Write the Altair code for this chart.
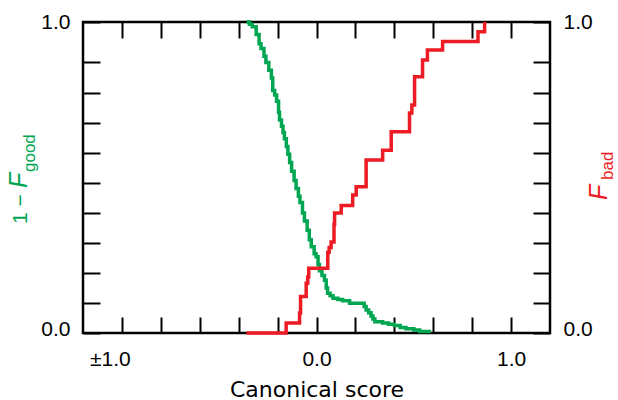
import altair as alt
import pandas as pd

# ---- data ----
good_score = [-0.36, -0.345, -0.33, -0.31, -0.295, -0.285, -0.27, -0.26, -0.245, -0.232,
              -0.225, -0.215, -0.205, -0.195, -0.19, -0.18, -0.172, -0.165, -0.155, -0.147,
              -0.138, -0.128, -0.115, -0.105, -0.093, -0.085, -0.072, -0.062, -0.048, -0.037,
              -0.027, -0.012, -0.002, 0.008, 0.015, 0.028, 0.041, 0.05, 0.057, 0.07,
              0.085, 0.11, 0.134, 0.17, 0.245, 0.255, 0.268, 0.28, 0.29, 0.3,
              0.34, 0.37, 0.40, 0.43, 0.46, 0.50, 0.53, 0.58]
good_value = [1.0, 0.993, 0.985, 0.96, 0.93, 0.915, 0.89, 0.87, 0.845, 0.82,
              0.78, 0.765, 0.745, 0.71, 0.685, 0.665, 0.645, 0.625, 0.6, 0.575,
              0.548, 0.52, 0.49, 0.465, 0.44, 0.42, 0.386, 0.36, 0.33, 0.30,
              0.277, 0.255, 0.245, 0.22, 0.2, 0.185, 0.17, 0.145, 0.128, 0.12,
              0.112, 0.108, 0.104, 0.096, 0.085, 0.074, 0.065, 0.055, 0.045, 0.036,
              0.032, 0.028, 0.024, 0.018, 0.014, 0.01, 0.005, 0.0]

bad_score = [-0.36, -0.156, -0.087, -0.082, -0.053, -0.045, -0.04, 0.058, 0.065, 0.075,
             0.09, 0.093, 0.127, 0.186, 0.204, 0.255, 0.34, 0.384, 0.478, 0.49,
             0.504, 0.545, 0.57, 0.648, 0.83, 0.864]
bad_value = [0.0, 0.032, 0.064, 0.117, 0.16, 0.18, 0.208, 0.26, 0.275, 0.293,
             0.35, 0.386, 0.41, 0.444, 0.47, 0.556, 0.588, 0.647, 0.707, 0.733,
             0.824, 0.878, 0.91, 0.937, 0.969, 1.0]

x_tick_values = [-1.0, -0.8, -0.6, -0.4, -0.2, 0.0, 0.2, 0.4, 0.6, 0.8, 1.0]
y_tick_values = [0.0, 0.097, 0.193, 0.29, 0.386, 0.483, 0.58, 0.676, 0.773, 0.87, 1.0]
x_domain = [-1.2, 1.2]
y_domain = [0.0, 1.0]
x_title = "Canonical score"

FONT = "Liberation Sans"
GREEN = "#00a651"
RED = "#ed1c24"

good_df = pd.DataFrame({"score": good_score, "F": good_value})
bad_df = pd.DataFrame({"score": bad_score, "F": bad_value})

xs = alt.Scale(domain=x_domain, nice=False, zero=False)
ys = alt.Scale(domain=y_domain, nice=False, zero=False)

x_label_expr = ("datum.value == -1 ? '\u00b11.0' : "
                "(datum.value == 0 || datum.value == 1) ? format(datum.value, '.1f') : ''")
y_label_expr = "(datum.value == 0 || datum.value == 1) ? format(datum.value, '.1f') : ''"

common = dict(domain=False, grid=False, tickColor="black", tickWidth=2,
              labelFont=FONT, labelFontSize=21, labelColor="black")

x_bottom = alt.Axis(orient="bottom", values=x_tick_values, labelExpr=x_label_expr,
                    tickSize=alt.ExprRef(expr="-16"), labelPadding=31, labelFlush=False,
                    labelOffset={"condition": {"test": "datum.value == -1", "value": -12}, "value": 0},
                    title=x_title, titleFont="DejaVu Sans", titleFontSize=22,
                    titleFontWeight="normal", titleColor="black",
                    titleBaseline="alphabetic", titleY=63, **common)
x_top = alt.Axis(orient="top", values=x_tick_values, labels=False,
                 tickSize=alt.ExprRef(expr="-16"), title="", **common)
y_left = alt.Axis(orient="left", values=y_tick_values, labelExpr=y_label_expr,
                  tickSize=alt.ExprRef(expr="-17"), labelPadding=30,
                  labelOffset={"condition": {"test": "datum.value == 0", "value": -4}, "value": 0},
                  title="", **common)
y_right = alt.Axis(orient="right", values=y_tick_values, labelExpr=y_label_expr,
                   tickSize=alt.ExprRef(expr="-17"), labelPadding=30,
                   labelOffset={"condition": {"test": "datum.value == 0", "value": -4}, "value": 0},
                   title="", **common)

green_layer = alt.Chart(good_df).mark_line(
    interpolate="step-after", color=GREEN, strokeWidth=3.5
).encode(
    x=alt.X("score:Q", scale=xs, axis=x_bottom),
    y=alt.Y("F:Q", scale=ys, axis=y_left),
)

red_layer = alt.Chart(bad_df).mark_line(
    interpolate="step-after", color=RED, strokeWidth=3.5
).encode(
    x=alt.X("score:Q", scale=xs, axis=x_top),
    y=alt.Y("F:Q", scale=ys, axis=y_right),
)


def label(text, x, y, size, color, style="normal"):
    return alt.Chart(pd.DataFrame({"t": [text]})).mark_text(
        angle=270, align="left", baseline="alphabetic", font=FONT,
        fontSize=size, fontStyle=style, color=color
    ).encode(x=alt.value(x), y=alt.value(y), text="t:N")


texts = [
    label("1 \u2212", -56, 202, 21, GREEN),
    label("F", -56, 166, 25, GREEN, "italic"),
    label("good", -48, 150, 17, GREEN),
    label("F", 524, 178, 25, RED, "italic"),
    label("bad", 530, 158, 17, RED),
]

chart = alt.layer(green_layer, red_layer, *texts).resolve_scale(
    x="independent", y="independent"
).properties(
    width=467, height=311,
    padding={"left": 83, "top": 22, "right": 68, "bottom": 67},
    autosize=alt.AutoSizeParams(type="none"),
).configure_view(stroke="black", strokeWidth=2.5)

chart.save("out.html", embed_options={"renderer": "svg", "actions": False})
